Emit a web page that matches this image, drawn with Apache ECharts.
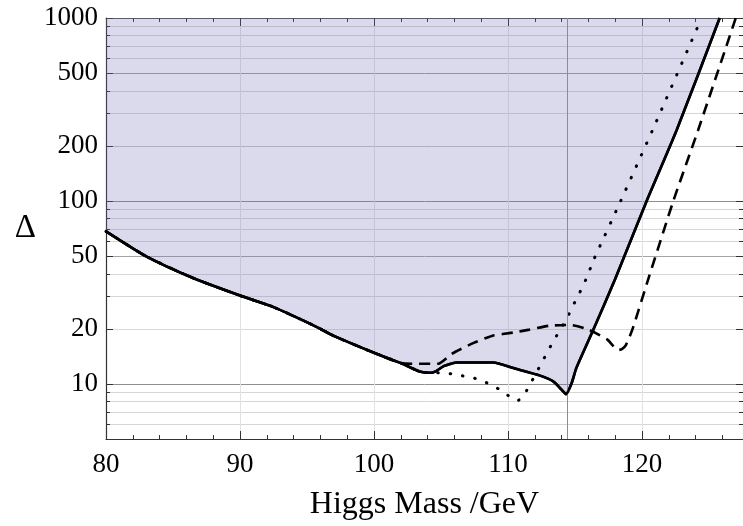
<!DOCTYPE html>
<html>
<head>
<meta charset="utf-8">
<script src="https://cdn.jsdelivr.net/npm/echarts@6/dist/echarts.min.js"></script>
<style>html,body{margin:0;padding:0;background:#fff;}#c{width:743px;height:526px;}</style>
</head>
<body>
<div id="c"></div>
<script>
// ---- data ----
const xMajorTicks = [80, 90, 100, 110, 120];
const xMinorTicks = [82, 84, 86, 88, 92, 94, 96, 98, 102, 104, 106, 108, 112, 114, 116, 118, 122, 124, 126];
const yMajorTicks = [10, 20, 50, 100, 200, 500, 1000];
const yMinorTicks = [6, 7, 8, 9, 30, 40, 60, 70, 80, 90, 300, 400, 600, 700, 800, 900];
const lepBound = 114.4;

const solidCurve = [
  [80, 68.2], [83, 49.8], [86.5, 37.9], [90, 30.4], [92.5, 26.3], [94.5, 22.6], [96, 20.0],
  [97, 18.3], [100, 14.8], [102, 13.0], [103.4, 11.7], [104.2, 11.5], [104.6, 11.7],
  [105.2, 12.5], [105.8, 12.95], [106.2, 13.1], [108.9, 13.1], [110.4, 12.2], [112.4, 11.1],
  [113.4, 10.3], [114.0, 9.3], [114.33, 8.8], [114.75, 10.1], [115.1, 12.2], [116.4, 20.0],
  [118.0, 37.5], [120.35, 100], [122.6, 245], [125.8, 1000]
];
const dashedCurve = [
  [80, 68.2], [83, 49.8], [86.5, 37.9], [90, 30.4], [92.5, 26.3], [94.5, 22.6], [96, 20.0],
  [97, 18.3], [100, 14.8], [102, 13.0], [103, 12.9], [104.8, 12.9], [105.8, 14.6],
  [107.4, 16.7], [108.8, 18.3], [110.4, 19.1], [111.6, 19.8], [113.1, 20.8], [114.6, 21.0],
  [116, 19.8], [117.4, 17.5], [117.8, 16.3], [118.2, 15.3], [118.5, 15.5], [118.8, 16.3],
  [119.3, 20], [120.5, 38], [122.34, 100], [124.2, 245], [127, 1000]
];
const dottedCurve = [
  [80, 68.2], [83, 49.8], [86.5, 37.9], [90, 30.4], [92.5, 26.3], [94.5, 22.6], [96, 20.0],
  [97, 18.3], [100, 14.8], [102, 13.0], [103.4, 11.7], [104.2, 11.5], [105.2, 11.5],
  [106.2, 11.2], [107.1, 10.9], [108, 10.5], [108.8, 9.8], [109.65, 9.1], [110.3, 8.3],
  [110.7, 8.1], [111.1, 8.5], [111.6, 9.8], [112.5, 13], [112.96, 15], [113.4, 17.2],
  [113.9, 19.8], [114.4, 22.9], [114.8, 26.3], [115.25, 30.5], [115.7, 35.6], [116.07, 41.4],
  [116.4, 47.8], [118.4, 99.6], [120.8, 245], [124.45, 1000]
];

// ---- chart ----
const FONT = "Liberation Serif";
const X_MIN = 80, X_MAX = 127.54, Y_MIN = 5, Y_MAX = 1000;
const AX = '#333';

function xAx(pos, ticks, len, extra) {
  return Object.assign({
    type: 'value', min: X_MIN, max: X_MAX, position: pos,
    axisLine: { show: false },
    axisTick: { show: true, inside: true, length: len, customValues: ticks, lineStyle: { color: AX, width: 1 } },
    axisLabel: { show: false },
    splitLine: { show: false }
  }, extra || {});
}
function yAx(pos, ticks, len, extra) {
  return Object.assign({
    type: 'log', logBase: 10, min: Y_MIN, max: Y_MAX, position: pos,
    axisLine: { show: false },
    axisTick: { show: true, inside: true, length: len, customValues: ticks, lineStyle: { color: AX, width: 1 } },
    axisLabel: { show: false },
    splitLine: { show: false }
  }, extra || {});
}

const chart = echarts.init(document.getElementById('c'), null, { renderer: 'canvas' });
chart.setOption({
  animation: false,
  backgroundColor: '#ffffff',
  grid: { left: 106, top: 18, right: 0, bottom: 87, containLabel: false },
  xAxis: [
    xAx('bottom', xMajorTicks, 8, {
      axisLine: { show: true, lineStyle: { color: AX, width: 1.2 } },
      axisLabel: { show: true, customValues: xMajorTicks, formatter: v => String(Math.round(v)),
        color: '#000', fontFamily: FONT, fontSize: 27, margin: 12 },
      splitLine: { show: true, lineStyle: { color: '#e2e2e6', width: 1 } },
      name: 'Higgs Mass /GeV', nameLocation: 'middle', nameGap: 50,
      nameTextStyle: { color: '#000', fontFamily: FONT, fontSize: 32 }
    }),
    xAx('bottom', xMinorTicks, 4),
    xAx('top', xMajorTicks, 8, { axisLine: { show: true, lineStyle: { color: '#555', width: 1 } } }),
    xAx('top', xMinorTicks, 4)
  ],
  yAxis: [
    yAx('left', yMajorTicks, 7, {
      axisLine: { show: true, lineStyle: { color: AX, width: 1.2 } },
      axisLabel: { show: true, customValues: yMajorTicks, formatter: v => String(Math.round(v)),
        color: '#000', fontFamily: FONT, fontSize: 27, margin: 8 },
      splitLine: { show: true, lineStyle: { width: 1, color: ['#8e8e8e', '#dadada', '#a4a4a4', '#8e8e8e', '#c6c6c6', '#a0a0a0', '#8e8e8e'] } },
      name: 'Δ', nameLocation: 'middle', nameRotate: 0, nameGap: 70,
      nameTextStyle: { color: '#000', fontFamily: FONT, fontSize: 33, padding: [0, 0, 6, 0] }
    }),
    yAx('left', yMinorTicks, 4, { splitLine: { show: true, lineStyle: { color: '#d6d6d6', width: 1 } } }),
    yAx('right', yMajorTicks, 7),
    yAx('right', yMinorTicks, 4)
  ],
  series: [
    {
      name: 'lep', type: 'line', data: [], z: 1, silent: true,
      markLine: {
        silent: true, symbol: ['none', 'none'], label: { show: false },
        lineStyle: { color: '#8c8c98', width: 1, type: 'solid' },
        data: [{ xAxis: lepBound }]
      }
    },
    {
      name: 'dotted', type: 'line', data: dottedCurve, showSymbol: false, smooth: 0.2, z: 3,
      lineStyle: { color: '#000', width: 3, type: [0.5, 12], cap: 'round' }
    },
    {
      name: 'dashed', type: 'line', data: dashedCurve, showSymbol: false, smooth: 0.2, z: 4,
      lineStyle: { color: '#000', width: 2.6, type: [11, 7], cap: 'butt' }
    },
    {
      name: 'solid', type: 'line', data: solidCurve, showSymbol: false, smooth: 0.2, z: 2,
      lineStyle: { color: '#000', width: 2.6 },
      areaStyle: { origin: 'end', color: 'rgba(112,112,180,0.26)', opacity: 1 }
    },
    {
      name: 'solidTop', type: 'line', data: solidCurve, showSymbol: false, smooth: 0.2, z: 5,
      lineStyle: { color: '#000', width: 2.6 }
    }
  ]
});
</script>
</body>
</html>
